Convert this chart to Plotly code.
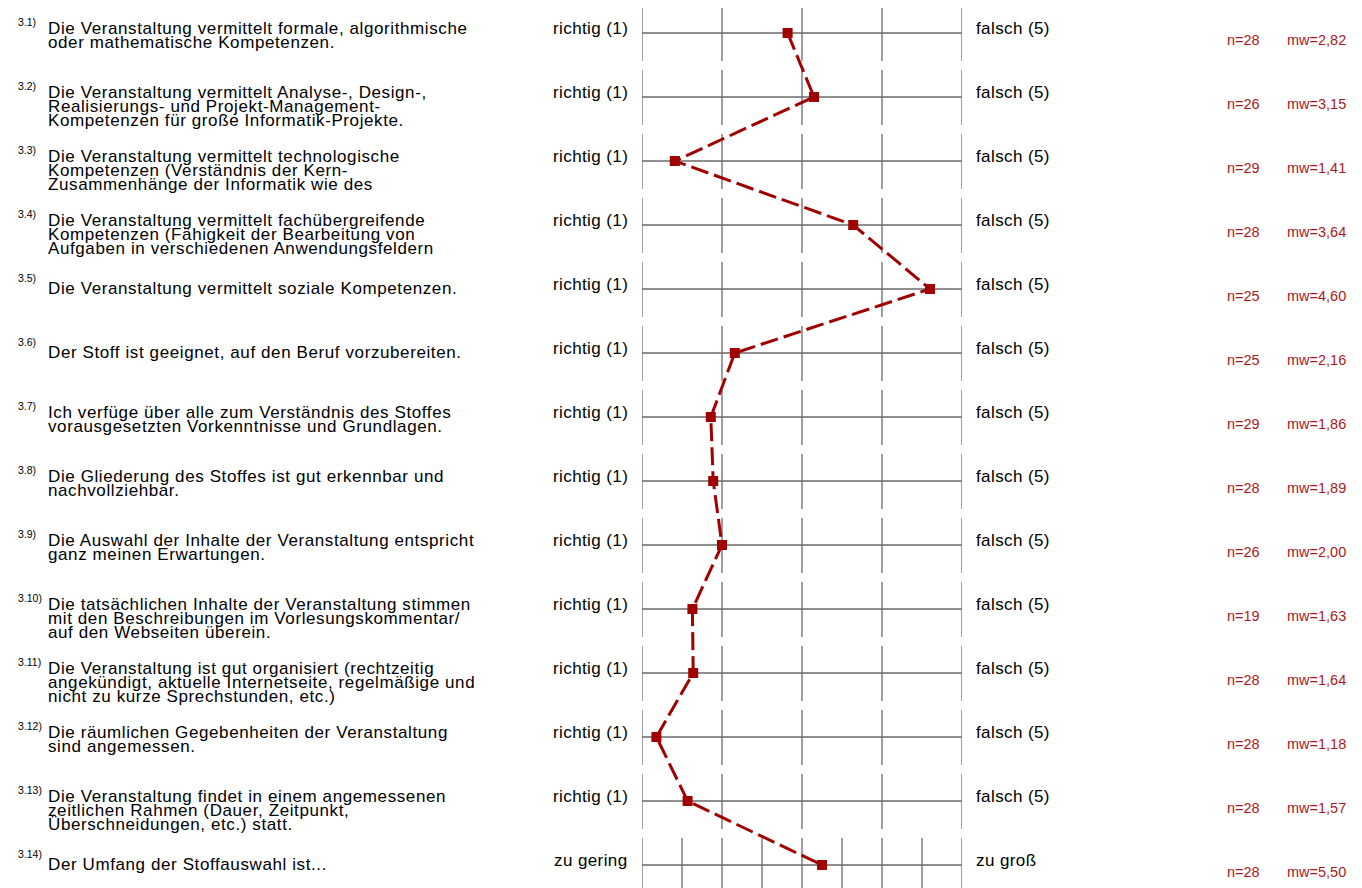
import plotly.graph_objects as go

# the page body has an 8px margin, so the figure is drawn 8px smaller
OFF = 8
W, H = 1362 - OFF, 888 - OFF

item_ids = ["3.1)", "3.2)", "3.3)", "3.4)", "3.5)", "3.6)", "3.7)",
            "3.8)", "3.9)", "3.10)", "3.11)", "3.12)", "3.13)", "3.14)"]

questions = [
    ["Die Veranstaltung vermittelt formale, algorithmische",
     "oder mathematische Kompetenzen."],
    ["Die Veranstaltung vermittelt Analyse-, Design-,",
     "Realisierungs- und Projekt-Management-",
     "Kompetenzen für große Informatik-Projekte."],
    ["Die Veranstaltung vermittelt technologische",
     "Kompetenzen (Verständnis der Kern-",
     "Zusammenhänge der Informatik wie des"],
    ["Die Veranstaltung vermittelt fachübergreifende",
     "Kompetenzen (Fähigkeit der Bearbeitung von",
     "Aufgaben in verschiedenen Anwendungsfeldern"],
    ["Die Veranstaltung vermittelt soziale Kompetenzen."],
    ["Der Stoff ist geeignet, auf den Beruf vorzubereiten."],
    ["Ich verfüge über alle zum Verständnis des Stoffes",
     "vorausgesetzten Vorkenntnisse und Grundlagen."],
    ["Die Gliederung des Stoffes ist gut erkennbar und",
     "nachvollziehbar."],
    ["Die Auswahl der Inhalte der Veranstaltung entspricht",
     "ganz meinen Erwartungen."],
    ["Die tatsächlichen Inhalte der Veranstaltung stimmen",
     "mit den Beschreibungen im Vorlesungskommentar/",
     "auf den Webseiten überein."],
    ["Die Veranstaltung ist gut organisiert (rechtzeitig",
     "angekündigt, aktuelle Internetseite, regelmäßige und",
     "nicht zu kurze Sprechstunden, etc.)"],
    ["Die räumlichen Gegebenheiten der Veranstaltung",
     "sind angemessen."],
    ["Die Veranstaltung findet in einem angemessenen",
     "zeitlichen Rahmen (Dauer, Zeitpunkt,",
     "Überschneidungen, etc.) statt."],
    ["Der Umfang der Stoffauswahl ist..."],
]

left_poles = ["richtig (1)"] * 13 + ["zu gering"]
right_poles = ["falsch (5)"] * 13 + ["zu groß"]
scale_points = [5] * 13 + [9]

n_values = [28, 26, 29, 28, 25, 25, 29, 28, 26, 19, 28, 28, 28, 28]
mw_values = [2.82, 3.15, 1.41, 3.64, 4.60, 2.16, 1.86, 1.89, 2.00,
             1.63, 1.64, 1.18, 1.57, 5.50]

RED = "#a00000"
TXT_RED = "#a81a1c"
GRID = "#6a6a6a"
FONT = "Liberation Sans, Arial, sans-serif"

ROW_PX = 64.0          # pixel distance between rows
TOP_PX = 33.0 - OFF    # centre of the first row


def px(x):
    # window pixel x -> paper fraction
    return (x - OFF) / W


def py(row, dy=0.0):
    # row index + pixel offset -> y data value
    return row + dy / ROW_PX


def wide(t, ls):
    return f'<span style="letter-spacing:{ls}px">{t}</span>'


rows = list(range(len(questions)))
# position on a 0..1 track, each row using its own scale
xpos = [(m - 1) / (p - 1) for m, p in zip(mw_values, scale_points)]

fig = go.Figure()

fig.add_trace(go.Scatter(
    x=xpos, y=rows, mode="lines+markers",
    line=dict(color=RED, width=3, dash="18px,6px"),
    marker=dict(symbol="square", size=10, color=RED),
    hoverinfo="skip", showlegend=False,
))

shapes = []
for r, p in zip(rows, scale_points):
    shapes.append(dict(type="line", xref="x", yref="y", x0=0, x1=1,
                       y0=r, y1=r, line=dict(color=GRID, width=1.3),
                       layer="below"))
    for k in range(p):
        shapes.append(dict(type="line", xref="x", yref="y",
                           x0=k / (p - 1), x1=k / (p - 1),
                           y0=py(r, -27), y1=py(r, 28),
                           line=dict(color=GRID, width=1.3), layer="below"))

ann = []
for r in rows:
    ann.append(dict(text=item_ids[r], x=px(16), y=py(r, -11), xref="paper",
                    yref="y", xanchor="left", yanchor="middle",
                    showarrow=False, font=dict(size=10.5, color="#000")))
    lines = questions[r]
    start = -5 if len(lines) > 1 else -1
    for i, t in enumerate(lines):
        ann.append(dict(text=wide(t, 0.6), x=px(46), y=py(r, start + 14 * i),
                        xref="paper", yref="y", xanchor="left",
                        yanchor="middle", showarrow=False,
                        font=dict(size=17, color="#000")))
    ann.append(dict(text=wide(left_poles[r], 0.4), x=px(630), y=py(r, -5),
                    xref="paper", yref="y", xanchor="right",
                    yanchor="middle", showarrow=False,
                    font=dict(size=17, color="#000")))
    ann.append(dict(text=wide(right_poles[r], 0.4), x=px(974), y=py(r, -5),
                    xref="paper", yref="y", xanchor="left",
                    yanchor="middle", showarrow=False,
                    font=dict(size=17, color="#000")))
    ann.append(dict(text=f"n={n_values[r]}", x=px(1225), y=py(r, 7),
                    xref="paper", yref="y", xanchor="left", yanchor="middle",
                    showarrow=False, font=dict(size=14.5, color=TXT_RED)))
    ann.append(dict(text="mw=" + f"{mw_values[r]:.2f}".replace(".", ","),
                    x=px(1285), y=py(r, 7), xref="paper", yref="y",
                    xanchor="left", yanchor="middle", showarrow=False,
                    font=dict(size=14.5, color=TXT_RED)))

fig.update_layout(
    width=W, height=H,
    margin=dict(l=0, r=0, t=0, b=0),
    paper_bgcolor="white", plot_bgcolor="white",
    font=dict(family=FONT),
    shapes=shapes, annotations=ann,
    xaxis=dict(domain=[px(642), px(962)], range=[0, 1], visible=False,
               fixedrange=True),
    yaxis=dict(domain=[0, 1],
               range=[py(len(rows) - 1, H - TOP_PX - (len(rows) - 1) * ROW_PX),
                      py(0, -TOP_PX)],
               visible=False, fixedrange=True),
)

fig.write_html("out.html")
